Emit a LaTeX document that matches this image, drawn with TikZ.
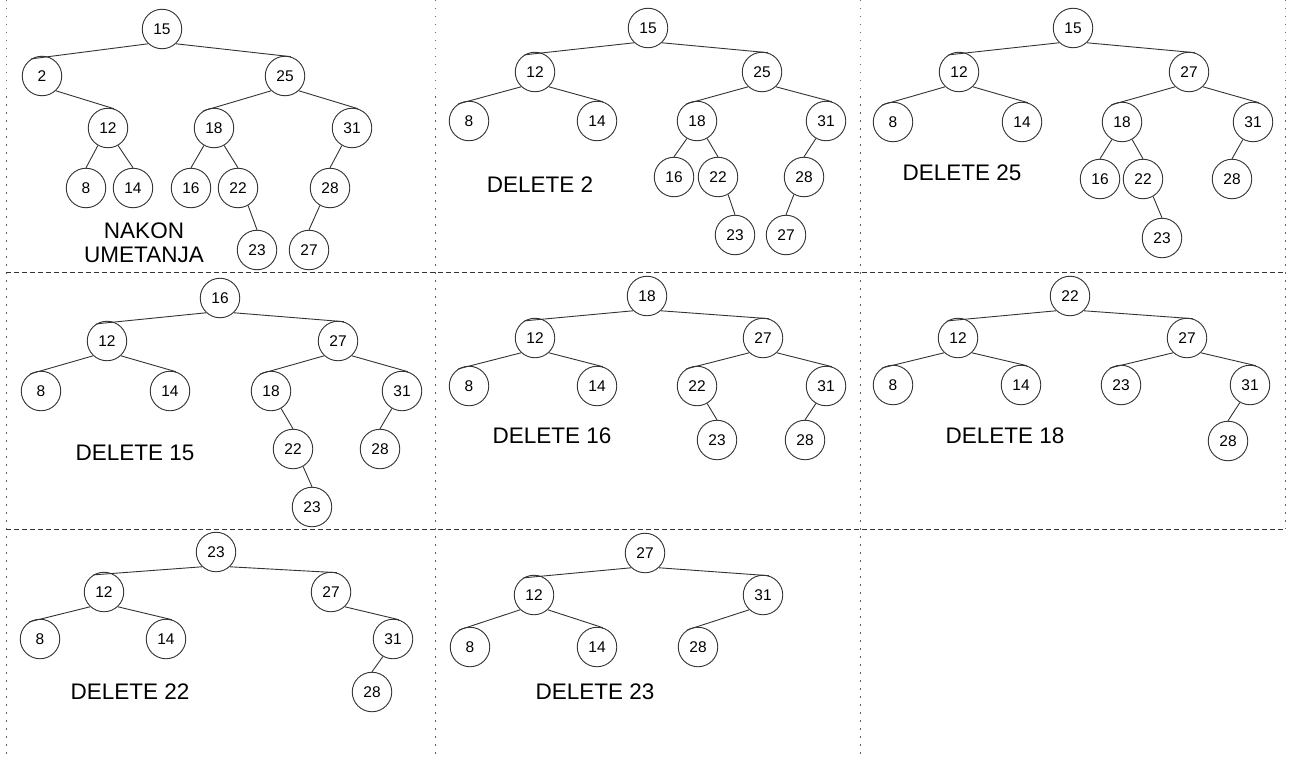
\documentclass[tikz,border=0pt]{standalone}
\usepackage{fontspec}
\setmainfont{Liberation Sans}
\begin{document}
\begin{tikzpicture}[x=1pt,y=-1pt,
  nd/.style={circle,draw=black!80,line width=0.9pt,minimum size=39.5pt,inner sep=0pt,font=\fontsize{15.5}{16}\selectfont},
  lbl/.style={font=\fontsize{22.5}{24}\selectfont,align=center,inner sep=0pt},
  edge/.style={draw=black!80,line width=0.9pt},
  vsep/.style={draw=black!60,line width=1pt,dash pattern=on 1.5pt off 6.5pt},
  hsep/.style={draw=black!80,line width=1pt,dash pattern=on 5pt off 3pt}]
\useasboundingbox[fill=white] (0,0) rectangle (1291,760);
% separators
\coordinate (v1t) at (6,0); \coordinate (v1b) at (6,760);
\coordinate (v2t) at (435,0); \coordinate (v2b) at (435,760);
\coordinate (v3t) at (860,0); \coordinate (v3b) at (860,760);
\coordinate (v4t) at (1285,0); \coordinate (v4b) at (1285,529);
\coordinate (h1l) at (6,272); \coordinate (h1r) at (1285,272);
\coordinate (h2l) at (6,529); \coordinate (h2r) at (1285,529);
\draw[vsep] (v1t) -- (v1b);
\draw[vsep] (v2t) -- (v2b);
\draw[vsep] (v3t) -- (v3b);
\draw[vsep] (v4t) -- (v4b);
\draw[hsep] (h1l) -- (h1r);
\draw[hsep] (h2l) -- (h2r);
% panel 1
\node[nd] (a15) at (162,29) {15};
\node[nd] (a2) at (42,76) {2};
\node[nd] (a25) at (285,76) {25};
\node[nd] (a12) at (108,128) {12};
\node[nd] (a18) at (214,128) {18};
\node[nd] (a31) at (352,128) {31};
\node[nd] (a8) at (86,188) {8};
\node[nd] (a14) at (133,188) {14};
\node[nd] (a16) at (191,188) {16};
\node[nd] (a22) at (238,188) {22};
\node[nd] (a28) at (330,188) {28};
\node[nd] (a23) at (257,250) {23};
\node[nd] (a27) at (309,250) {27};
\node[lbl] (la) at (144,243) {NAKON\\UMETANJA};
% panel 2
\node[nd] (b15) at (648,28) {15};
\node[nd] (b12) at (535,72) {12};
\node[nd] (b25) at (762,72) {25};
\node[nd] (b8) at (469,121) {8};
\node[nd] (b14) at (597,121) {14};
\node[nd] (b18) at (697,121) {18};
\node[nd] (b31) at (826,121) {31};
\node[nd] (b16) at (674,177) {16};
\node[nd] (b22) at (718,177) {22};
\node[nd] (b28) at (804,177) {28};
\node[nd] (b23) at (735,235) {23};
\node[nd] (b27) at (786,235) {27};
\node[lbl] (lb) at (540,185) {DELETE 2};
% panel 3
\node[nd] (c15) at (1073,28) {15};
\node[nd] (c12) at (959,72) {12};
\node[nd] (c27) at (1189,72) {27};
\node[nd] (c8) at (893,122) {8};
\node[nd] (c14) at (1022,122) {14};
\node[nd] (c18) at (1122,122) {18};
\node[nd] (c31) at (1253,122) {31};
\node[nd] (c16) at (1100,179) {16};
\node[nd] (c22) at (1143,179) {22};
\node[nd] (c28) at (1232,179) {28};
\node[nd] (c23) at (1162,238) {23};
\node[lbl] (lc) at (962,173) {DELETE 25};
% panel 4
\node[nd] (d16) at (220,298) {16};
\node[nd] (d12) at (107,341) {12};
\node[nd] (d27) at (338,341) {27};
\node[nd] (d8) at (41,391) {8};
\node[nd] (d14) at (170,391) {14};
\node[nd] (d18) at (271,391) {18};
\node[nd] (d31) at (402,391) {31};
\node[nd] (d22) at (293,449) {22};
\node[nd] (d28) at (380,449) {28};
\node[nd] (d23) at (312,507) {23};
\node[lbl] (ld) at (135,453) {DELETE 15};
% panel 5
\node[nd] (e18) at (647,296) {18};
\node[nd] (e12) at (535,338) {12};
\node[nd] (e27) at (763,338) {27};
\node[nd] (e8) at (469,386) {8};
\node[nd] (e14) at (597,386) {14};
\node[nd] (e22) at (697,386) {22};
\node[nd] (e31) at (826,386) {31};
\node[nd] (e23) at (717,440) {23};
\node[nd] (e28) at (805,440) {28};
\node[lbl] (le) at (552,436) {DELETE 16};
% panel 6
\node[nd] (f22) at (1070,296) {22};
\node[nd] (f12) at (958,338) {12};
\node[nd] (f27) at (1187,338) {27};
\node[nd] (f8) at (893,385) {8};
\node[nd] (f14) at (1021,385) {14};
\node[nd] (f23) at (1121,385) {23};
\node[nd] (f31) at (1250,385) {31};
\node[nd] (f28) at (1228,441) {28};
\node[lbl] (lf) at (1005,436) {DELETE 18};
% panel 7
\node[nd] (g23) at (216,552) {23};
\node[nd] (g12) at (104,592) {12};
\node[nd] (g27) at (331,592) {27};
\node[nd] (g8) at (40,639) {8};
\node[nd] (g14) at (166,639) {14};
\node[nd] (g31) at (393,639) {31};
\node[nd] (g28) at (372,692) {28};
\node[lbl] (lg) at (130,692) {DELETE 22};
% panel 8
\node[nd] (h27) at (645,553) {27};
\node[nd] (h12) at (534,595) {12};
\node[nd] (h31) at (763,595) {31};
\node[nd] (h8) at (470,647) {8};
\node[nd] (h14) at (597,647) {14};
\node[nd] (h28) at (698,647) {28};
\node[lbl] (lh) at (595,692) {DELETE 23};
% edges: wide left children
\foreach \p/\c in {a15/a2,a25/a18,
  b15/b12,b12/b8,b25/b18,
  c15/c12,c12/c8,c27/c18,
  d16/d12,d12/d8,d27/d18,
  e18/e12,e12/e8,e27/e22,
  f22/f12,f12/f8,f27/f23,
  g23/g12,g12/g8,
  h27/h12,h12/h8,h31/h28}
  \draw[edge] (\p.-133) -- (\c.122);
% edges: wide right children
\foreach \p/\c in {a15/a25,a2/a12,a25/a31,
  b15/b25,b12/b14,b25/b31,
  c15/c27,c12/c14,c27/c31,
  d16/d27,d12/d14,d27/d31,
  e18/e27,e12/e14,e27/e31,
  f22/f27,f12/f14,f27/f31,
  g23/g27,g12/g14,g27/g31,
  h27/h31,h12/h14}
  \draw[edge] (\p.-47) -- (\c.73);
% edges: steep left children
\foreach \p/\c in {a12/a8,a18/a16,a31/a28,a28/a27,
  b18/b16,b31/b28,b28/b27,
  c18/c16,c31/c28,
  d31/d28,
  e31/e28,
  f31/f28,
  g31/g28}
  \draw[edge] (\p.-120) -- (\c.north);
% edges: steep right children
\foreach \p/\c in {a12/a14,a18/a22,a22/a23,
  b18/b22,b22/b23,
  c18/c22,c22/c23,
  d18/d22,d22/d23,
  e22/e23}
  \draw[edge] (\p.-60) -- (\c.north);
\end{tikzpicture}
\end{document}
